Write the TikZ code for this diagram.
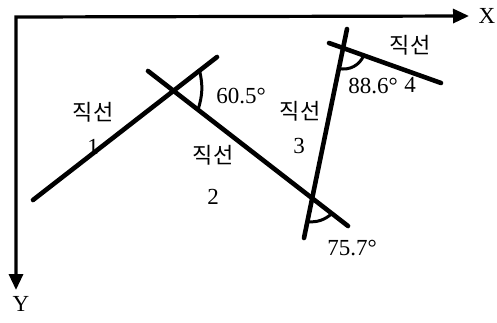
\documentclass[tikz,border=0pt]{standalone}
\usepackage{fontspec}
\setmainfont{Liberation Serif}
\newfontfamily\krfont{Noto Sans CJK KR}
\usetikzlibrary{arrows.meta,calc}
\begin{document}
\begin{tikzpicture}[x=1pt,y=-1pt,
  axisline/.style={line width=3.2pt,line join=miter,{Triangle[length=16pt,width=14pt]}-{Triangle[length=16pt,width=14pt]}},
  ln/.style={line width=4.6pt,line cap=round},
  angarc/.style={line width=3pt,line cap=round},
  lbl/.style={font=\fontsize{23}{26}\selectfont,inner sep=0pt},
  kr/.style={font=\krfont\fontsize{22}{26}\selectfont,inner sep=0pt}]
\useasboundingbox (0,0) rectangle (497,322);
% axes
\coordinate (O) at (16,17);
\coordinate (xend) at (469,16);
\coordinate (yend) at (16,290);
\draw[axisline] (yend) -- (O) -- (xend);
\node[lbl] (X) at (487,16) {X};
\node[lbl] (Y) at (21,304) {Y};
% lines
\coordinate (l1a) at (33,200);  \coordinate (l1b) at (217,57);
\coordinate (l2a) at (148,71);  \coordinate (l2b) at (348,226);
\coordinate (l3a) at (304,238); \coordinate (l3b) at (347,29);
\coordinate (l4a) at (329,43);  \coordinate (l4b) at (441,83);
\draw[ln] (l1a) -- (l1b);
\draw[ln] (l2a) -- (l2b);
\draw[ln] (l3a) -- (l3b);
\draw[ln] (l4a) -- (l4b);
% intersections
\coordinate (p12) at (intersection of l1a--l1b and l2a--l2b);
\coordinate (p23) at (intersection of l2a--l2b and l3a--l3b);
\coordinate (p34) at (intersection of l3a--l3b and l4a--l4b);
% angle arcs
\coordinate (a1) at ($(p12)!33pt!(l1b)$);
\coordinate (a2) at ($(p12)!31pt!(l2b)$);
\draw[angarc] (a1) to[bend left=15] (a2);
\coordinate (b1) at ($(p23)!24pt!(l3a)$);
\coordinate (b2) at ($(p23)!25pt!(l2b)$);
\draw[angarc] (b1) to[bend right=22] (b2);
\coordinate (c1) at ($(p34)!21pt!(l3a)$);
\coordinate (c2) at ($(p34)!22pt!(l4b)$);
\draw[angarc] (c1) to[bend right=38] (c2);
% labels
\node[kr]  (k1) at (93,112) {직선};
\node[lbl] (n1) at (93,147) {1};
\node[kr]  (k2) at (213,155) {직선};
\node[lbl] (n2) at (213,197) {2};
\node[kr]  (k3) at (300,111) {직선};
\node[lbl] (n3) at (299,146) {3};
\node[kr]  (k4) at (410,45) {직선};
\node[lbl] (n4) at (410,85) {4};
\node[lbl] (ang1) at (241,96) {60.5°};
\node[lbl] (ang2) at (352,248) {75.7°};
\node[lbl] (ang3) at (373,86) {88.6°};
\end{tikzpicture}
\end{document}
